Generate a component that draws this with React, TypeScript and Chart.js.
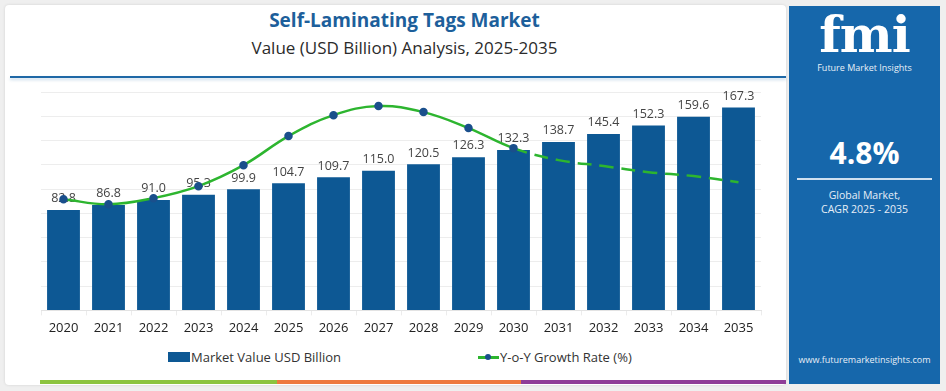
import React, { useEffect, useRef } from "react";
import { Chart, registerables } from "chart.js";

Chart.register(...registerables);

const years = ["2020","2021","2022","2023","2024","2025","2026","2027","2028","2029","2030","2031","2032","2033","2034","2035"];
const marketValue = [82.8, 86.8, 91.0, 95.3, 99.9, 104.7, 109.7, 115.0, 120.5, 126.3, 132.3, 138.7, 145.4, 152.3, 159.6, 167.3];
const growthRate = [5.09, 4.86, 5.14, 5.69, 6.65, 7.98, 8.94, 9.36, 9.08, 8.35, 7.43, 6.88, 6.61, 6.33, 6.15, 5.87];
const lastActualIndex = 10;

const FONT = "'Open Sans', 'Noto Sans', sans-serif";
const BAR = "#0d5894";
const GREEN = "#2db52f";
const DOT = "#1a4f8c";

const labelPlugin = {
  id: "barLabels",
  afterDatasetDraw(chart: any, args: any) {
    if (args.index !== 0) return;
    const ctx = chart.ctx;
    const meta = chart.getDatasetMeta(0);
    ctx.save();
    ctx.font = `12.5px ${FONT}`;
    ctx.fillStyle = "#444";
    ctx.textAlign = "center";
    ctx.textBaseline = "bottom";
    meta.data.forEach((el: any, i: number) => {
      ctx.fillText(marketValue[i].toFixed(1), el.x, el.y - 5);
    });
    ctx.restore();
  },
};

function ChartCanvas() {
  const ref = useRef<HTMLCanvasElement | null>(null);
  useEffect(() => {
    if (!ref.current) return;
    const chart = new Chart(ref.current, {
      type: "bar",
      data: {
        labels: years,
        datasets: [
          {
            type: "bar",
            label: "Market Value USD Billion",
            data: marketValue,
            backgroundColor: BAR,
            categoryPercentage: 0.73,
            barPercentage: 1,
            yAxisID: "y",
            order: 1,
          },
          {
            type: "line",
            label: "Y-o-Y Growth Rate (%)",
            data: growthRate,
            borderColor: GREEN,
            borderWidth: 2.5,
            tension: 0.4,
            pointRadius: growthRate.map((_, i) => (i <= lastActualIndex ? 3 : 0)),
            pointBackgroundColor: DOT,
            pointBorderColor: DOT,
            yAxisID: "y1",
            order: 0,
            segment: {
              borderDash: (c: any) => (c.p0DataIndex >= lastActualIndex ? [14, 8] : undefined),
            },
          } as any,
        ],
      },
      options: {
        responsive: false,
        animation: false,
        maintainAspectRatio: false,
        layout: { padding: { left: 41, right: 24, top: 9, bottom: 4 } },
        plugins: { legend: { display: false }, tooltip: { enabled: false } },
        scales: {
          x: {
            offset: true,
            grid: { display: true, drawOnChartArea: false, tickLength: 5, color: "#ececec" },
            border: { display: true, color: "#e3e3e3" },
            ticks: { color: "#222", font: { family: FONT, size: 13 }, padding: 5 },
          },
          y: {
            min: 0,
            max: 180,
            ticks: { display: false, stepSize: 20 },
            grid: { color: "#ededed", drawTicks: false },
            border: { display: false },
          },
          y1: { display: false, min: 0, max: 10 },
        },
      },
      plugins: [labelPlugin],
    });
    return () => chart.destroy();
  }, []);
  return (
    <canvas
      ref={ref}
      width={785}
      height={262}
      style={{ position: "absolute", left: 0, top: 83, width: 785, height: 262 }}
    />
  );
}

export default function App() {
  return (
    <div
      style={{
        position: "fixed",
        left: 0,
        top: 0,
        width: 946,
        height: 391,
        background: "#efefef",
        fontFamily: FONT,
        overflow: "hidden",
      }}
    >
      <div
        style={{
          position: "absolute",
          left: 5,
          top: 5,
          width: 781,
          height: 380,
          background: "#fff",
          borderRadius: 4,
          boxShadow: "0 0 3px rgba(0,0,0,0.12)",
        }}
      />
      <div
        style={{
          position: "absolute",
          left: 5,
          width: 781,
          top: 6,
          textAlign: "center",
          fontWeight: 700,
          fontSize: 19,
          color: "#1d5f9b",
          lineHeight: "28px",
          paddingLeft: 18,
          boxSizing: "border-box",
        }}
      >
        Self-Laminating Tags Market
      </div>
      <div
        style={{
          position: "absolute",
          left: 5,
          width: 781,
          top: 35,
          textAlign: "center",
          fontSize: 17,
          color: "#2b2b2b",
          lineHeight: "26px",
          paddingLeft: 18,
          boxSizing: "border-box",
        }}
      >
        Value (USD Billion) Analysis, 2025-2035
      </div>
      <div
        style={{
          position: "absolute",
          left: 10,
          top: 76,
          width: 776,
          height: 2,
          background: "#1f68a6",
          boxShadow: "0 2px 3px rgba(31,104,166,0.25)",
        }}
      />
      <ChartCanvas />
      {/* Legend */}
      <div style={{ position: "absolute", left: 168, top: 352, width: 22, height: 10, background: BAR }} />
      <div style={{ position: "absolute", left: 191, top: 348, fontSize: 13, color: "#333", lineHeight: "18px" }}>
        Market Value USD Billion
      </div>
      <div style={{ position: "absolute", left: 478, top: 356, width: 21, height: 2.5, background: GREEN }} />
      <div
        style={{
          position: "absolute",
          left: 485,
          top: 354,
          width: 6,
          height: 6,
          borderRadius: 3,
          background: DOT,
        }}
      />
      <div style={{ position: "absolute", left: 500, top: 348, fontSize: 13, color: "#333", lineHeight: "18px" }}>
        Y-o-Y Growth Rate (%)
      </div>
      {/* bottom stripes */}
      <div style={{ position: "absolute", left: 40, top: 380, width: 237, height: 3.5, background: "#8cc43f" }} />
      <div style={{ position: "absolute", left: 277, top: 380, width: 244, height: 3.5, background: "#ee7a3f" }} />
      <div style={{ position: "absolute", left: 521, top: 380, width: 265, height: 3.5, background: "#8f3d98" }} />
      {/* right panel */}
      <div
        style={{
          position: "absolute",
          left: 789,
          top: 6,
          width: 151,
          height: 378,
          background: "#1667ab",
          color: "#fff",
          textAlign: "center",
        }}
      >
        <div
          style={{
            position: "absolute",
            left: 0,
            width: 151,
            top: 2,
            fontFamily: "'DejaVu Serif', serif",
            fontWeight: 700,
            fontSize: 50,
            lineHeight: "54px",
            letterSpacing: -1,
          }}
        >
          fmi
        </div>
        <div style={{ position: "absolute", left: 0, width: 151, top: 56, fontSize: 9, lineHeight: "12px", color: "#e8f0f8" }}>
          Future Market Insights
        </div>
        <div style={{ position: "absolute", left: 0, width: 151, top: 127, fontSize: 30, fontWeight: 700, lineHeight: "40px" }}>
          4.8%
        </div>
        <div style={{ position: "absolute", left: 8, width: 135, top: 172, height: 1.5, background: "#cfe0f0" }} />
        <div style={{ position: "absolute", left: 0, width: 151, top: 182, fontSize: 10.5, lineHeight: "14px", color: "#e6eef7" }}>
          Global Market,
          <br />
          CAGR 2025 - 2035
        </div>
        <div style={{ position: "absolute", left: 0, width: 151, top: 348, fontSize: 9, lineHeight: "12px", color: "#e6eef7" }}>
          www.futuremarketinsights.com
        </div>
      </div>
    </div>
  );
}
